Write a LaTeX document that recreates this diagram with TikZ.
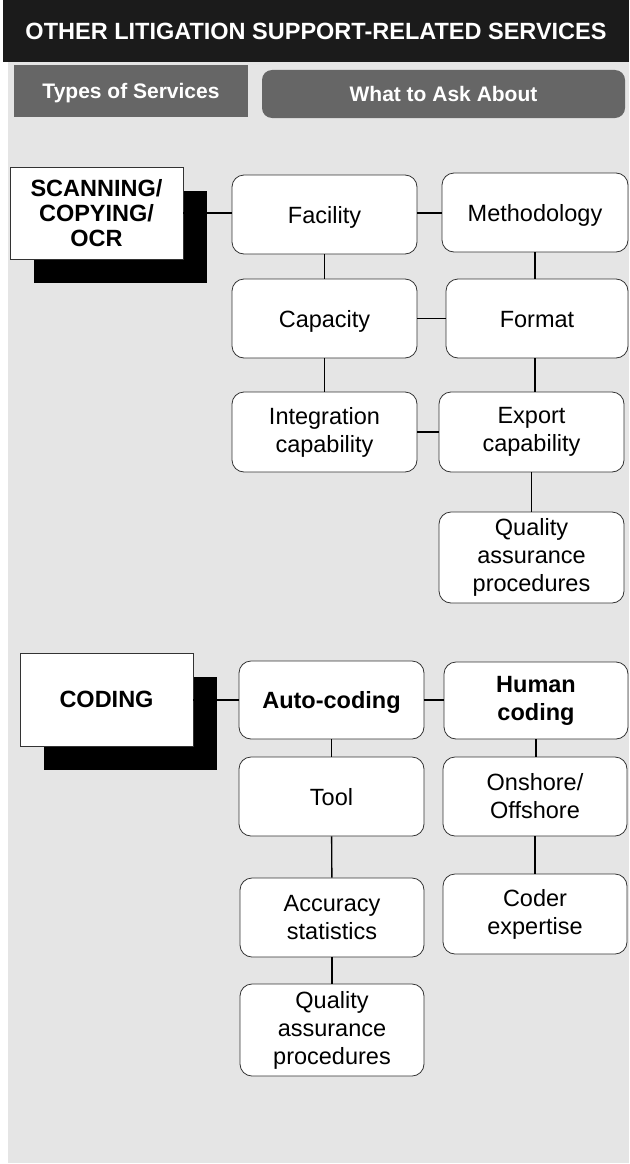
\documentclass[tikz,border=0pt]{standalone}
\usepackage{fontspec}
\setmainfont{Liberation Sans}
\usetikzlibrary{shadows}
\definecolor{hdrblack}{HTML}{1B1B1B}
\definecolor{panelgrey}{HTML}{E5E5E5}
\definecolor{tabgrey}{HTML}{666666}
\definecolor{edgegrey}{HTML}{333333}
\tikzset{
  item/.style={draw=edgegrey, line width=0.8pt, fill=white, rounded corners=12pt,
    minimum width=185pt, minimum height=79pt, align=center, inner sep=0pt,
    font=\fontsize{23.5}{28}\selectfont},
  oneline/.style={text height=17pt, text depth=0pt},
  service/.style={draw=edgegrey, line width=0.8pt, fill=white, minimum width=173pt,
    minimum height=92pt, align=center, inner sep=0pt,
    font=\fontsize{23.5}{25}\selectfont\bfseries,
    drop shadow={shadow xshift=24pt, shadow yshift=-24pt, fill=black, opacity=1}},
  tab/.style={fill=tabgrey, text=white, inner sep=0pt, text height=15pt, text depth=0pt,
    font=\fontsize{21}{25}\selectfont\bfseries},
  link/.style={line width=1.4pt, black},
}
\begin{document}
\begin{tikzpicture}[x=1pt, y=-1pt]
  \useasboundingbox (0,0) rectangle (629,1164);
  % background and header
  \fill[panelgrey] (8,62) rectangle (629,1163);
  \node[fill=hdrblack, text=white, minimum width=626pt, minimum height=62pt, inner sep=0pt,
    text height=16.5pt, text depth=0pt,
    font=\fontsize{23.5}{27}\selectfont\bfseries] (title) at (316,31) {OTHER LITIGATION SUPPORT-RELATED SERVICES};
  \node[tab, minimum width=234pt, minimum height=52pt] (types) at (131,91) {Types of Services};
  \node[tab, rounded corners=10pt, minimum width=363pt, minimum height=48pt] (ask) at (443.5,94) {What to Ask About};

  % scanning / copying / ocr
  \node[service] (scan) at (96.5,213) {SCANNING/\\COPYING/\\OCR};
  \node[item, oneline] (facility) at (324.5,214.5) {Facility};
  \node[item, oneline, minimum width=186pt] (method) at (535,212.5) {Methodology};
  \node[item, oneline] (capacity) at (324.5,318.5) {Capacity};
  \node[item, oneline, minimum width=182pt] (format) at (537,318.5) {Format};
  \node[item, minimum height=80pt] (integ) at (324.5,432) {Integration\\capability};
  \node[item, minimum height=80pt] (export) at (531.5,432) {Export\\capability};
  \node[item, minimum height=91pt] (qaone) at (531.5,557.5) {Quality\\assurance\\procedures};

  \draw[link] (scan.east) -- (scan.east -| facility.west);
  \draw[link] (facility.east |- scan.east) -- (method.west |- scan.east);
  \draw[link] (facility) -- (capacity);
  \draw[link] (method.south) -- (method.south |- format.north);
  \draw[link] (capacity) -- (format);
  \draw[link] (capacity) -- (integ);
  \draw[link] (method.south |- format.south) -- (method.south |- export.north);
  \draw[link] (integ) -- (export);
  \draw[link] (export) -- (qaone);

  % coding
  \node[service, minimum height=93pt] (coding) at (106.5,699.5) {CODING};
  \node[item, oneline, minimum height=78pt, font=\fontsize{23.5}{28}\selectfont\bfseries] (auto) at (331.5,700) {Auto-coding};
  \node[item, minimum width=184pt, minimum height=77pt, font=\fontsize{23.5}{28}\selectfont\bfseries] (human) at (536,700.5) {Human\\coding};
  \node[item, oneline] (tool) at (331.5,796.5) {Tool};
  \node[item, minimum width=184pt] (onshore) at (535,796.5) {Onshore/\\Offshore};
  \node[item, minimum width=184pt] (accuracy) at (332,917.5) {Accuracy\\statistics};
  \node[item, minimum width=184pt, minimum height=80pt] (coder) at (535,914) {Coder\\expertise};
  \node[item, minimum width=184pt, minimum height=92pt] (qatwo) at (332,1030) {Quality\\assurance\\procedures};

  \draw[link] (coding.east |- auto.west) -- (auto.west);
  \draw[link] (auto.east) -- (auto.east -| human.west);
  \draw[link] (auto) -- (tool);
  \draw[link] (human.south) -- (human.south |- onshore.north);
  \draw[link] (tool) -- (accuracy);
  \draw[link] (onshore.south) -- (onshore.south |- coder.north);
  \draw[link] (accuracy) -- (qatwo);
\end{tikzpicture}
\end{document}
